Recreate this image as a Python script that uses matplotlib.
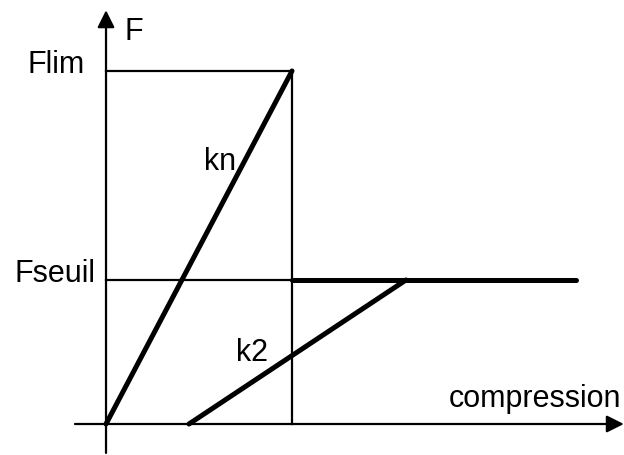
import matplotlib
matplotlib.use("Agg")
import matplotlib.pyplot as plt

plt.rcParams['font.family'] = ['Liberation Sans', 'DejaVu Sans']

# force / compression values (normalised units)
d_lim = 1.0        # compression at Flim
F_lim = 1.0
F_seuil = 0.408
k2_x = [0.446, 1.613]     # start / end of the k2 branch
k2_y = [0.0, F_seuil]
plateau_x = [d_lim, 2.527]
kn_x = [0.0, d_lim]
kn_y = [0.0, F_lim]

fig = plt.figure(figsize=(6.24, 4.55), dpi=100)
ax = fig.add_axes([0, 0, 1, 1])
ax.set_xlim(-0.570, 2.785)
ax.set_ylim(-0.0878, 1.201)
ax.axis('off')

thin = 1.6
thick = 3.6

# axes with arrows
ax.annotate('', xy=(2.784, 0), xytext=(-0.167, 0),
            arrowprops=dict(arrowstyle='-|>', lw=thin, color='k',
                            mutation_scale=26, shrinkA=0, shrinkB=0))
ax.annotate('', xy=(0, 1.172), xytext=(0, -0.082),
            arrowprops=dict(arrowstyle='-|>', lw=thin, color='k',
                            mutation_scale=26, shrinkA=0, shrinkB=0))

# thin guide lines
ax.plot([0, d_lim], [F_lim, F_lim], color='k', lw=thin)
ax.plot([d_lim, d_lim], [F_lim, 0], color='k', lw=thin)
ax.plot([0, d_lim], [F_seuil, F_seuil], color='k', lw=thin)

# thick behaviour lines
ax.plot(kn_x, kn_y, color='k', lw=thick, solid_capstyle='round')
ax.plot(k2_x, k2_y, color='k', lw=thick, solid_capstyle='round')
ax.plot(plateau_x, [F_seuil, F_seuil], color='k', lw=thick, solid_capstyle='round')

fs = 22
ax.text(0.097, 1.088, 'F', fontsize=fs, ha='left', va='baseline')
ax.text(-0.113, 0.994, 'Flim', fontsize=fs, ha='right', va='baseline')
ax.text(-0.054, 0.402, 'Fseuil', fontsize=fs, ha='right', va='baseline')
ax.text(0.527, 0.720, 'kn', fontsize=fs, ha='left', va='baseline')
ax.text(0.699, 0.178, 'k2', fontsize=fs, ha='left', va='baseline')
ax.text(2.769, 0.048, 'compression', fontsize=fs, ha='right', va='baseline')

fig.savefig('out.png', dpi=100)
